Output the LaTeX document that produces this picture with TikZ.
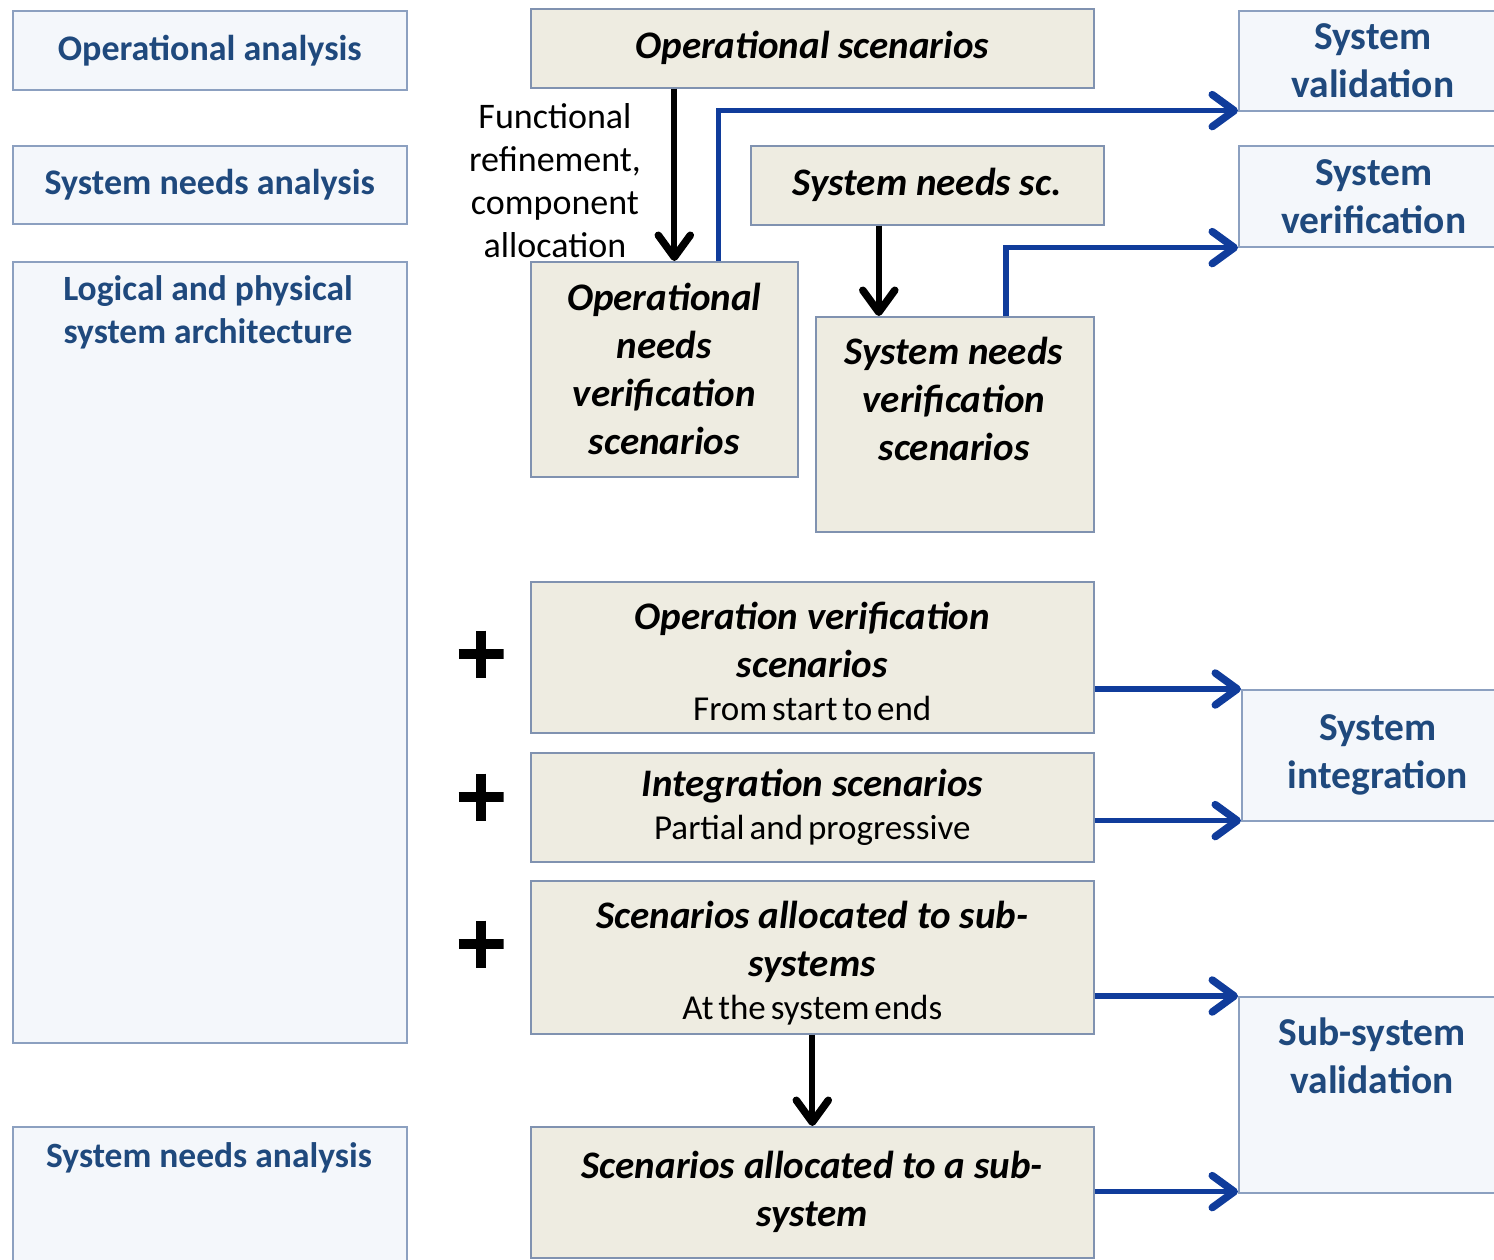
\documentclass[tikz,border=0pt]{standalone}
\usepackage{fontspec}
\setmainfont{Carlito}
\usetikzlibrary{arrows.meta,calc}

\definecolor{navytext}{RGB}{31,73,125}
\definecolor{phasefill}{RGB}{244,247,251}
\definecolor{phaseline}{RGB}{140,160,192}
\definecolor{scenfill}{RGB}{238,236,225}
\definecolor{scenline}{RGB}{128,146,176}
\definecolor{linkblue}{RGB}{16,60,155}

% regular-weight second line of a scenario box, set with narrow word spaces
\newcommand{\scensub}[1]{{\normalfont\fontsize{35}{44}\selectfont\spaceskip=0.14em #1}}

\tikzset{
  phase/.style={draw=phaseline, fill=phasefill, line width=1.6pt, anchor=north west,
    inner sep=0pt, align=center, text=navytext,
    font=\fontsize{36}{43}\selectfont\bfseries},
  phasetext/.style={inner sep=0pt, align=center, text=navytext,
    font=\fontsize{35.5}{43}\selectfont\bfseries},
  activity/.style={phase, font=\fontsize{39.5}{48}\selectfont\bfseries},
  scen/.style={draw=scenline, fill=scenfill, line width=1.6pt, anchor=north west,
    inner sep=0pt, align=center,
    font=\fontsize{39}{48}\selectfont\bfseries\itshape},
  scentext/.style={inner sep=0pt, align=center,
    font=\fontsize{39}{48}\selectfont\bfseries\itshape},
  note/.style={inner sep=0pt, align=center, font=\fontsize{36}{43}\selectfont},
  flow/.style={draw=black, line width=6pt,
    -{Straight Barb[length=22pt,width=32pt,line width=7.5pt,round]}},
  link/.style={draw=linkblue, line width=5.5pt,
    -{Straight Barb[length=22pt,width=32pt,line width=7.5pt,round]}},
  plussign/.style={minimum width=45pt, minimum height=47pt, inner sep=0pt,
    path picture={
      \draw[line width=10pt] (path picture bounding box.west) -- (path picture bounding box.east);
      \draw[line width=10pt] (path picture bounding box.north) -- (path picture bounding box.south);
    }},
}

\begin{document}
\begin{tikzpicture}[x=1pt,y=-1pt]
  \useasboundingbox (0,0) rectangle (1494,1259);

  % engineering phases (left column)
  \node[phase, minimum width=394pt, minimum height=79pt] (oa) at (12,10) {Operational analysis};
  \node[phase, minimum width=394pt, minimum height=78pt] (sna) at (12,145) {System needs analysis};
  \node[phase, minimum width=394pt, minimum height=781pt] (arch) at (12,261) {};
  \node[phasetext] (archtxt) at (208,312) {Logical and physical\\system architecture};
  \node[phase, minimum width=394pt, minimum height=170pt] (sna2) at (12,1126) {};
  \node[phasetext] (sna2txt) at (209,1158) {System needs analysis};

  % scenarios (middle column)
  \node[scen, minimum width=563pt, minimum height=79pt] (os) at (530,8) {Operational scenarios};
  \node[scen, minimum width=267pt, minimum height=215pt] (onv) at (530,261)
    {Operational\\needs\\verification\\scenarios};
  \node[scen, minimum width=353pt, minimum height=79pt] (sns) at (750,145) {System needs sc.};
  \node[scen, minimum width=278pt, minimum height=215pt] (snv) at (815,316) {};
  \node[scentext] (snvtxt) at (954,399) {System needs\\verification\\scenarios};
  \node[scen, minimum width=563pt, minimum height=151pt] (ovs) at (530,581)
    {\rule{0pt}{36pt}Operation verification\\scenarios\\[-5pt]\scensub{From start to end}};
  \node[scen, minimum width=563pt, minimum height=109pt] (integ) at (530,752)
    {Integration scenarios\\[-5pt]\scensub{Partial and progressive}};
  \node[scen, minimum width=563pt, minimum height=153pt] (sas) at (530,880)
    {\rule{0pt}{40pt}Scenarios allocated to sub-\\systems\\[-5pt]\scensub{At the system ends}};
  \node[scen, minimum width=563pt, minimum height=131pt] (sa1) at (530,1126)
    {Scenarios allocated to a sub-\\system};

  % validation / verification activities (right column)
  \node[activity, minimum width=268pt, minimum height=100pt] (sval) at (1238,10) {System\\validation};
  \node[activity, minimum width=270pt, minimum height=101pt] (sver) at (1238,145) {System\\verification};
  \node[activity, minimum width=272pt, minimum height=131pt] (intg) at (1241,689) {System\\integration};
  \node[activity, minimum width=268pt, minimum height=196pt] (ssv) at (1238,996) {};
  \node[phasetext, font=\fontsize{39.5}{48}\selectfont\bfseries] (ssvtxt) at (1372,1056) {Sub-system\\validation};

  % label of the refinement step
  \node[note] (flab) at (555,181) {Functional\\refinement,\\component\\allocation};

  % plus signs
  \node[plussign] (plus1) at (481,654) {};
  \node[plussign] (plus2) at (481,797) {};
  \node[plussign] (plus3) at (481,944) {};

  % refinement arrows
  \coordinate (onvin) at ([xshift=10pt]onv.north);
  \draw[flow] (onvin |- os.south) -- (onvin);
  \coordinate (snvin) at ([xshift=-76pt]snv.north);
  \draw[flow] (snvin |- sns.south) -- (snvin);
  \draw[flow] (sas.south) -- (sa1.north);

  % links to the test activities
  \coordinate (onvout) at ([xshift=54pt]onv.north);
  \coordinate (svalin) at ([yshift=1pt]sval.south west);
  \draw[link] (onvout) |- (svalin);
  \coordinate (snvout) at ([xshift=51pt]snv.north);
  \draw[link] (snvout) |- (sver.south west);
  \draw[link] (ovs.east |- intg.north west) -- (intg.north west);
  \coordinate (intgin) at ([yshift=1pt]intg.south west);
  \draw[link] (integ.east |- intgin) -- (intgin);
  \draw[link] (sas.east |- ssv.north west) -- (ssv.north west);
  \coordinate (ssvin) at ([yshift=2pt]ssv.south west);
  \draw[link] (sa1.east |- ssvin) -- (ssvin);
\end{tikzpicture}
\end{document}
